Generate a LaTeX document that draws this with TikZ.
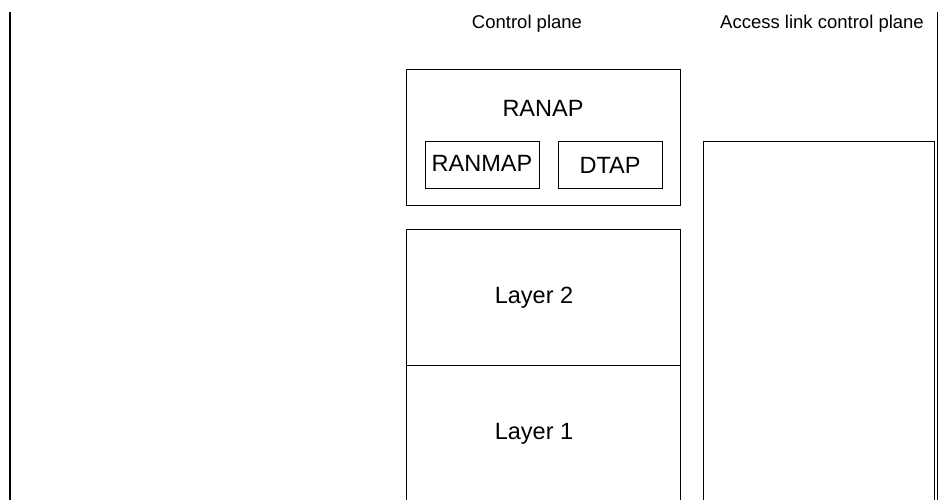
\documentclass[tikz,border=0pt]{standalone}
\usepackage{fontspec}
\setmainfont{Liberation Sans}
\usepackage{tikz}
\usetikzlibrary{calc}

\tikzset{
    kasten/.style={draw, line width=1pt, inner sep=0pt},
    titel/.style={anchor=base, inner sep=0pt, font=\fontsize{18.5}{22}\selectfont},
    schrift/.style={anchor=base, inner sep=0pt, font=\fontsize{23.5}{28}\selectfont}
}

\begin{document}
\begin{tikzpicture}[x=1pt, y=-1pt]
        \clip (0,0) rectangle (938,499);
        \fill[white] (0,0) rectangle (938,499);

        % Rand
        \draw[line width=2pt] (9.5,12) -- (9.5,505);
        \draw[line width=1.4pt] (937.3,12) -- (937.3,505);

        % Ueberschriften
        \node[titel] (cp) at (527,28.5) {Control plane};
        \node[titel] (alcp) at (822,28.5) {Access link control plane};

        % RANAP
        \draw[line width=1pt] (406.5,69.5) rectangle (680.5,205.5);
        \node[schrift] (ranap) at (543,116) {RANAP};
        \node[kasten, minimum width=114, minimum height=47] (ranmapbox) at (482,164.5) {};
        \node[schrift] (ranmap) at (482,171) {RANMAP};
        \node[kasten, minimum width=104, minimum height=47] (dtapbox) at (610,164.5) {};
        \node[schrift] (dtap) at (610,173) {DTAP};

        % Layer 2 und 1
        \draw[line width=1pt] (406.5,510) -- (406.5,229.5) -- (680.5,229.5) -- (680.5,510);
        \draw[line width=1pt] (406.5,365.5) -- (680.5,365.5);
        \node[schrift] (l2) at (534,303) {Layer 2};
        \node[schrift] (l1) at (534,439) {Layer 1};

        % Access link
        \draw[line width=1pt] (703.5,510) -- (703.5,141.5) -- (934.5,141.5) -- (934.5,510);
\end{tikzpicture}
\end{document}
